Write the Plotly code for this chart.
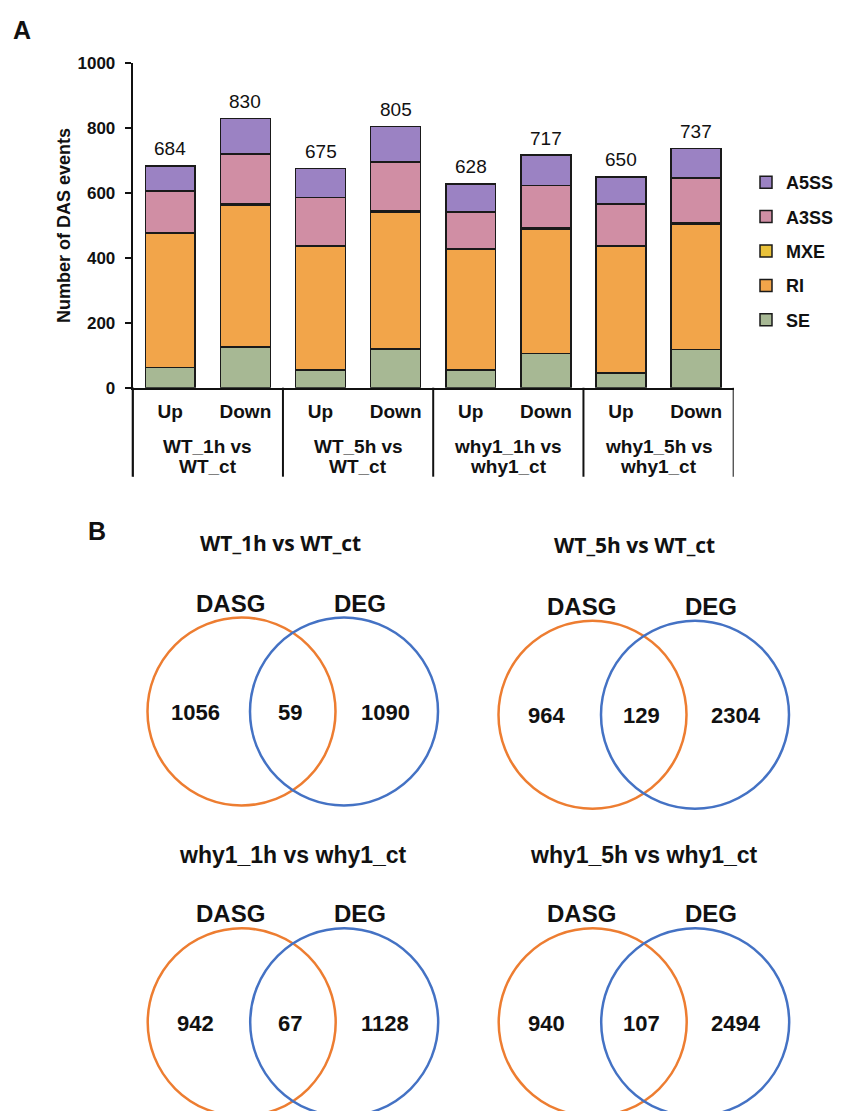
import plotly.graph_objects as go

W, H = 843, 1111

# ---------------- data ----------------
directions = ["Up", "Down"] * 4
group_line1 = ["WT_1h vs", "WT_5h vs", "why1_1h vs", "why1_5h vs"]
group_line2 = ["WT_ct", "WT_ct", "why1_ct", "why1_ct"]

SE = [62, 126, 54, 119, 54, 106, 46, 118]
RI = [414, 437, 382, 423, 372, 382, 389, 386]
MXE = [3, 5, 3, 4, 2, 4, 2, 4]
A3SS = [127, 152, 147, 150, 113, 132, 130, 139]
A5SS = [78, 110, 89, 109, 87, 93, 83, 90]

venn_titles = ["WT_1h vs WT_ct", "WT_5h vs WT_ct", "why1_1h vs why1_ct", "why1_5h vs why1_ct"]
venn_set_names = ["DASG", "DEG"]
dasg_only = [1056, 964, 942, 940]
shared = [59, 129, 67, 107]
deg_only = [1090, 2304, 1128, 2494]

# ---------------- styles ----------------
ARIAL = "Liberation Sans, Arial, sans-serif"
CALI = "Open Sans, Lato, sans-serif"
series = [
    ("SE", SE, "#a7b894"),
    ("RI", RI, "#f2a54a"),
    ("MXE", MXE, "#e9c13a"),
    ("A3SS", A3SS, "#d08ea4"),
    ("A5SS", A5SS, "#9b82c3"),
]
ORANGE = "#ed7d31"
BLUE = "#4472c4"
INK = "#111111"

# page (screenshot) pixel -> figure pixel (page body has an 8px margin)
OFF = 8.0
def fx(p):
    return p - OFF
def fy(p):
    return p - OFF
def py(p):
    return 1 - fy(p) / H
def px(p):
    return fx(p) / W

xpos = list(range(len(directions)))
totals = [sum(v) for v in zip(SE, RI, MXE, A3SS, A5SS)]

fig = go.Figure()
n_series = len(series)
for j, (name, vals, col) in enumerate(series):
    fig.add_trace(go.Bar(
        x=xpos, y=vals, name=name, legendgroup=name, legendrank=n_series - j,
        marker=dict(color=col, line=dict(color="#1a1a1a", width=1.5)),
        width=0.665, xaxis="x", yaxis="y",
    ))

# invisible trace for overlay pixel axes
fig.add_trace(go.Scatter(x=[None], y=[None], xaxis="x2", yaxis="y2",
                         showlegend=False, hoverinfo="skip"))

x_left, x_right = 132.7, 733.7
y_top, y_zero = 63.3, 387.7

annotations = []
shapes = []

def bold(size, fam=ARIAL):
    return dict(family=fam, size=size, color=INK, weight="bold")

# total labels above bars
for i, t in enumerate(totals):
    annotations.append(dict(x=i, y=t, xref="x", yref="y", text=str(t), showarrow=False,
                            yanchor="middle", yshift=17,
                            font=dict(family=ARIAL, size=19, color=INK)))

# group labels
for g in range(4):
    annotations.append(dict(x=2 * g + 0.5, y=py(446), xref="x", yref="paper", text=group_line1[g],
                            showarrow=False, yanchor="middle", font=bold(19)))
    annotations.append(dict(x=2 * g + 0.5, y=py(466), xref="x", yref="paper", text=group_line2[g],
                            showarrow=False, yanchor="middle", font=bold(19)))

# dividers
for b in [-0.5, 1.5, 3.5, 5.5, 7.5]:
    shapes.append(dict(type="line", xref="x", yref="paper", x0=b, x1=b,
                       y0=py(y_zero), y1=py(476.7), line=dict(color=INK, width=2)))

# panel letters
annotations.append(dict(x=fx(22), y=fy(30), xref="x2", yref="y2", text="A", showarrow=False,
                        font=bold(25)))
annotations.append(dict(x=fx(97), y=fy(531), xref="x2", yref="y2", text="B", showarrow=False,
                        font=bold(25)))

# venn diagrams
orange_centers = [(241.5, 711.5), (592.5, 714.7), (241.7, 1022.3), (592.7, 1022.3)]
title_pos = [(280, 543), (634, 545), (293, 855), (644, 855)]
title_fonts = [CALI, CALI, ARIAL, ARIAL]
title_sizes = [21, 21, 23, 23]
R = 94
D = 102.5
for k in range(4):
    cx, cy = orange_centers[k]
    cx, cy = fx(cx), fy(cy)
    bx = cx + D
    shapes.append(dict(type="circle", xref="x2", yref="y2", x0=cx - R, x1=cx + R,
                       y0=cy - R, y1=cy + R, line=dict(color=ORANGE, width=2.5)))
    shapes.append(dict(type="circle", xref="x2", yref="y2", x0=bx - R, x1=bx + R,
                       y0=cy - R, y1=cy + R, line=dict(color=BLUE, width=2.5)))
    tx, ty = title_pos[k]
    annotations.append(dict(x=fx(tx), y=fy(ty), xref="x2", yref="y2", text=venn_titles[k],
                            showarrow=False, font=bold(title_sizes[k], title_fonts[k])))
    annotations.append(dict(x=cx - 11.5, y=cy - 108.5, xref="x2", yref="y2", text=venn_set_names[0],
                            showarrow=False, font=bold(24)))
    annotations.append(dict(x=bx + 15.5, y=cy - 108.5, xref="x2", yref="y2", text=venn_set_names[1],
                            showarrow=False, font=bold(24)))
    for dx, val in [(-46.5, dasg_only[k]), (48.5, shared[k]), (143.5, deg_only[k])]:
        annotations.append(dict(x=cx + dx, y=cy + 1, xref="x2", yref="y2", text=str(val),
                                showarrow=False, font=bold(22)))

fig.update_layout(
    width=W, height=H,
    margin=dict(l=0, r=0, t=0, b=0, pad=0, autoexpand=False),
    paper_bgcolor="white", plot_bgcolor="rgba(0,0,0,0)",
    barmode="stack",
    showlegend=True,
    legend=dict(x=px(746), xanchor="left", y=py(164), yanchor="top",
                traceorder="grouped", tracegroupgap=8,
                font=bold(18),
                bgcolor="rgba(0,0,0,0)"),
    xaxis=dict(domain=[px(x_left), px(x_right)], range=[-0.5, 7.5],
               tickvals=xpos, ticktext=directions, ticks="", showgrid=False, zeroline=False,
               showline=True, linecolor=INK, linewidth=2, ticklabelstandoff=5,
               tickfont=bold(19), automargin=False,
               anchor="y", fixedrange=True),
    yaxis=dict(domain=[py(y_zero), py(y_top)], range=[0, 1000], dtick=200,
               ticks="outside", ticklen=6, tickwidth=2, tickcolor=INK,
               showline=True, linecolor=INK, linewidth=2, showgrid=False, zeroline=False,
               ticklabelstandoff=6, automargin=False,
               tickfont=bold(17),
               title=dict(text="Number of DAS events", standoff=2, font=bold(18)),
               anchor="x", fixedrange=True),
    xaxis2=dict(domain=[0, 1], range=[0, W], visible=False, anchor="y2", fixedrange=True,
                automargin=False),
    yaxis2=dict(domain=[0, 1], range=[H, 0], visible=False, anchor="x2", fixedrange=True,
                automargin=False),
    annotations=annotations,
    shapes=shapes,
)

# extend left axis line down through label area
fig.add_shape(type="line", xref="paper", yref="paper", x0=px(x_left), x1=px(x_left),
              y0=py(y_zero), y1=py(476.7), line=dict(color=INK, width=2))

fig.write_html("out.html")
